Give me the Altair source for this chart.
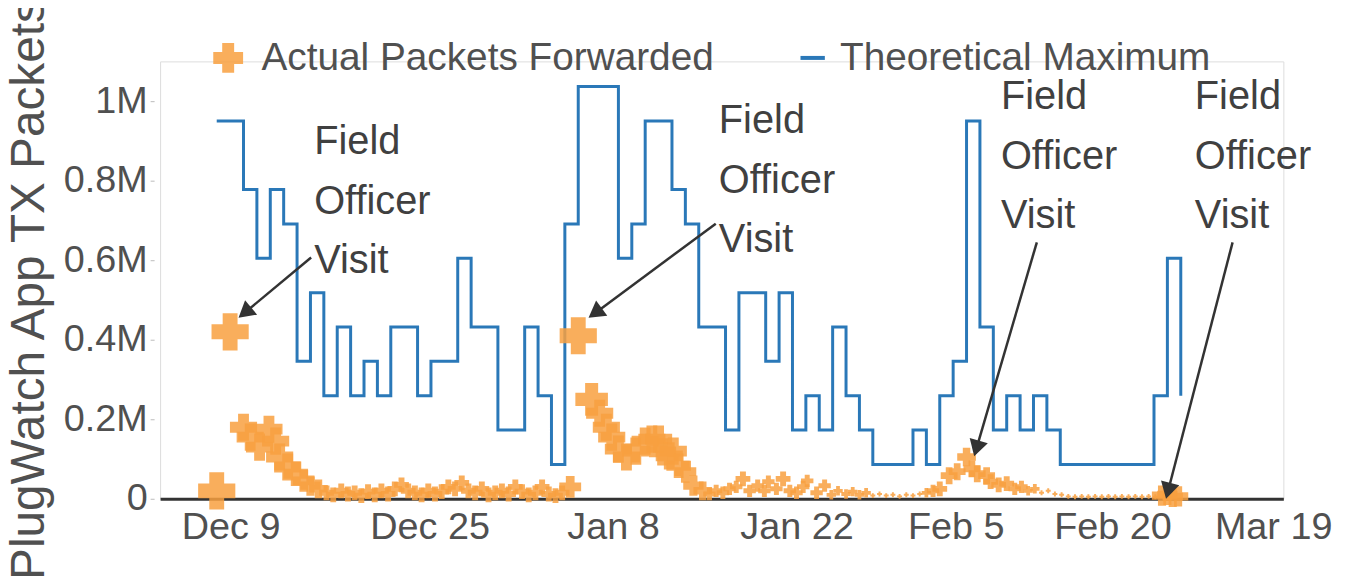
import math
import altair as alt
import pandas as pd

FONT = "Liberation Sans"

# ---- Theoretical maximum (thousand packets per day), day index 0 = Dec 8 ----
tm_day = list(range(73))
tm_k = [950, 950, 778, 605, 778, 691, 346, 518, 259, 432,
        259, 346, 259, 432, 432, 259, 346, 346, 605, 432,
        432, 173, 173, 432, 259, 86, 691, 1037, 1037, 1037,
        605, 691, 950, 950, 778, 691, 432, 432, 173, 518,
        518, 346, 518, 173, 259, 173, 432, 259, 173, 86,
        86, 86, 173, 86, 259, 346, 950, 432, 173, 259,
        173, 259, 173, 86, 86, 86, 86, 86, 86, 86,
        259, 605, 259]

# ---- Actual packets forwarded (thousand packets), with a marker weight ----
ap_day = [0.0, 1.0, 2.0, 2.5, 3.2, 3.9, 4.4, 4.7, 5.3, 5.9, 6.5, 7.0, 7.6,
          8.2, 8.7, 9.3, 9.8, 10.3, 10.8, 11.3, 11.8, 12.3, 12.8, 13.3, 13.8,
          14.3, 14.8, 15.3, 15.8, 16.3, 16.8, 17.3, 17.8, 18.3, 18.8, 19.3, 19.8,
          20.3, 20.8, 21.3, 21.8, 22.3, 22.8, 23.3, 23.8, 24.3, 24.8, 25.3, 25.8, 26.4,
          27.0, 28.0, 28.6, 29.1, 29.5, 30.0, 30.6, 31.3, 32.0, 32.5, 33.0, 33.3, 33.8,
          34.1, 34.5, 35.0, 35.6, 36.3,
          36.8, 37.3, 37.8, 38.3, 38.8, 39.3, 39.8, 40.4, 40.9, 41.2, 41.8, 42.3, 42.8,
          43.3, 43.8, 44.1, 44.8, 45.4, 45.9, 46.4, 47.0, 47.5, 48.0, 48.5, 49.0, 49.5,
          50.0, 50.5, 51.0, 51.5, 52.0, 52.5, 53.0, 53.5, 54.0,
          54.7, 55.3, 56.0, 56.4, 56.8, 57.5, 57.8, 58.4, 59.0, 59.6, 60.1, 60.6, 61.1,
          61.6, 62.1, 62.6, 63.1, 63.6, 64.1, 64.6, 65.1, 65.6, 66.1, 66.6, 67.1, 67.6,
          68.1, 68.6, 69.1, 69.6, 70.1, 70.6, 71.0, 71.4, 71.8]
ap_k = [20, 420, 180, 155, 130, 175, 145, 105, 80, 63, 45, 33, 25,
        15, 10, 20, 12, 15, 8, 18, 10, 20, 12, 25, 35,
        20, 15, 10, 20, 12, 18, 30, 25, 40, 20, 15, 25,
        10, 15, 20, 12, 30, 18, 10, 15, 30, 12, 8, 15, 30,
        410, 250, 215, 180, 155, 125, 105, 120, 145, 150, 150, 118, 108,
        120, 83, 68, 33, 20,
        12, 20, 15, 25, 30, 50, 20, 33, 20, 43, 25, 50, 20,
        15, 30, 45, 15, 33, 10, 20, 12, 18, 10, 15, 8, 12,
        8, 10, 6, 10, 8, 12, 15, 20, 25,
        58, 68, 105, 75, 63, 58, 43, 35, 38, 25, 30, 20, 25,
        15, 20, 12, 10, 6, 5, 6, 5, 6, 5, 6, 5, 6,
        5, 6, 5, 6, 5, 8, 10, 5, 6]
ap_w = [3, 3, 2, 2, 2, 2, 2, 2, 2, 1.8, 1.6, 1.5, 1.4,
        1.2, 1.2, 1.2, 1.2, 1.2, 1.2, 1.2, 1.2, 1.2, 1.2, 1.2, 1.2,
        1.2, 1.2, 1.2, 1.2, 1.2, 1.2, 1.2, 1.2, 1.2, 1.2, 1.2, 1.2,
        1.2, 1.2, 1.2, 1.2, 1.2, 1.2, 1.2, 1.2, 1.2, 1.2, 1.2, 1.2, 1.6,
        3, 2.5, 2, 2, 2, 2, 2, 2, 2, 2, 2, 2, 2,
        2, 1.8, 1.6, 1.5, 1.4,
        1.1, 1.1, 1.1, 1.1, 1.1, 1.2, 1.1, 1.1, 1.1, 1.1, 1.1, 1.2, 1.1,
        1.1, 1.1, 1.1, 1.1, 1.1, 1.0, 1.0, 1.0, 1.0, 1.0, 1.0, 0.9, 0.9,
        0.9, 0.9, 0.9, 0.9, 0.9, 0.9, 1.0, 1.1, 1.2,
        1.3, 1.3, 1.4, 1.3, 1.3, 1.3, 1.2, 1.2, 1.2, 1.1, 1.1, 1.0, 1.0,
        0.9, 0.9, 0.9, 0.9, 0.9, 0.9, 0.9, 0.9, 0.9, 0.9, 0.9, 0.9, 0.9,
        0.9, 0.9, 0.9, 0.9, 0.9, 1.5, 1.5, 1.5, 1.5]

# ---- x tick labels ----
tick_day = [1.04, 15.9, 29.6, 43.3, 55.2, 66.9, 78.9]
tick_lbl = ["Dec 9", "Dec 25", "Jan 8", "Jan 22", "Feb 5", "Feb 20", "Mar 19"]

# ---- annotations (data units: day index, thousand packets) ----
ann_text = ["Field\nOfficer\nVisit"] * 4
ann_day = [7.28, 37.5, 58.57, 73.05]
ann_k = [867, 920, 980, 980]
arr_tail_day = [7.05, 37.27, 61.25, 75.87]
arr_tail_k = [607, 692, 645, 645]
arr_tip_day = [1.63, 27.77, 56.57, 70.9]
arr_tip_k = [455, 455, 107, 0]

X_DOMAIN = [-4.23, 79.66]
Y_DOMAIN = [0, 1100000]
W, H = 1130, 440
px_day = W / (X_DOMAIN[1] - X_DOMAIN[0])
px_val = H / (Y_DOMAIN[1] - Y_DOMAIN[0])

ORANGE = "#f8a040"
BLUE = "#2a78b8"

tm = pd.DataFrame({"day": tm_day, "v": [k * 1000 for k in tm_k]})
ap = pd.DataFrame({"day": ap_day, "v": [k * 1000 for k in ap_k], "w": ap_w})

# arrow geometry
HEAD = 360
head_back = math.sqrt(HEAD) / 2 * 1.1547
rows = []
for td, tk, hd, hk in zip(arr_tail_day, arr_tail_k, arr_tip_day, arr_tip_k):
    dx = (hd - td) * px_day
    dy = -(hk - tk) * 1000 * px_val
    L = math.hypot(dx, dy)
    ux, uy = dx / L, dy / L
    cx = hd - ux * head_back / px_day
    cy = hk * 1000 + uy * head_back / px_val
    ang = math.degrees(math.atan2(dx, -dy)) % 360
    rows.append({"x1": td, "y1": tk * 1000, "x2": cx, "y2": cy, "ang": ang})
arrows = pd.DataFrame(rows)
ann = pd.DataFrame({"day": ann_day, "v": [k * 1000 for k in ann_k], "t": ann_text})

xs = alt.Scale(domain=X_DOMAIN, nice=False, zero=False)
ys = alt.Scale(domain=Y_DOMAIN, nice=False, zero=False)

expr = ""
for i in range(len(tick_day) - 1):
    mid = (tick_day[i] + tick_day[i + 1]) / 2
    expr += f"datum.value < {mid} ? '{tick_lbl[i]}' : "
expr += f"'{tick_lbl[-1]}'"

xaxis = alt.Axis(values=tick_day, labelExpr=expr, title=None, grid=False, ticks=False,
                 domainColor="#333333", domainWidth=3, labelFontSize=38, labelFont=FONT,
                 labelColor="#505050", labelPadding=10, labelFlush=False, labelOverlap=False)
yaxis = alt.Axis(values=[0, 200000, 400000, 600000, 800000, 1000000],
                 labelExpr="datum.value == 0 ? '0' : datum.value >= 1000000 ? '1M' : format(datum.value/1000000, '.1f') + 'M'",
                 title="PlugWatch App TX Packets", titleFontSize=48, titleFont=FONT,
                 titleFontWeight="normal", titleColor="#505050", titleAngle=270,
                 titleX=-125, titleY=229, titleAlign="center", titleBaseline="middle",
                 titleLimit=0,
                 grid=False, domain=False, tickSize=4, tickColor="#bbbbbb", offset=6,
                 labelPadding=3, labelFontSize=38, labelFont=FONT, labelColor="#505050")

line = alt.Chart(tm).mark_line(interpolate="step-after", strokeWidth=3).transform_calculate(
    series="'Theoretical Maximum'"
).encode(
    x=alt.X("day:Q", scale=xs, axis=xaxis),
    y=alt.Y("v:Q", scale=ys, axis=yaxis),
    color=alt.Color("series:N", scale=alt.Scale(domain=["Theoretical Maximum"], range=[BLUE]),
                    legend=alt.Legend(orient="none", legendX=637, legendY=-23, title=None,
                                      symbolType="stroke", symbolSize=600, symbolStrokeWidth=4,
                                      labelFontSize=39, labelFont=FONT, labelColor="#505050",
                                      labelOffset=8, labelLimit=0, padding=0)),
)

pts = alt.Chart(ap).mark_point(shape="cross", filled=True, opacity=0.85).transform_calculate(
    series="'Actual Packets Forwarded'"
).encode(
    x=alt.X("day:Q", scale=xs),
    y=alt.Y("v:Q", scale=ys),
    size=alt.Size("w:Q", scale=alt.Scale(domain=[1, 3], range=[90, 1400]), legend=None),
    color=alt.Color("series:N", scale=alt.Scale(domain=["Actual Packets Forwarded"], range=[ORANGE]),
                    legend=alt.Legend(orient="none", legendX=49, legendY=-23, title=None,
                                      symbolType="cross", symbolSize=900,
                                      labelFontSize=39, labelFont=FONT, labelColor="#505050",
                                      labelOffset=14, labelLimit=0, padding=0)),
)

rules = alt.Chart(arrows).mark_rule(color="#333333", strokeWidth=2.5).encode(
    x=alt.X("x1:Q", scale=xs), y=alt.Y("y1:Q", scale=ys), x2="x2:Q", y2="y2:Q")

heads = alt.Chart(arrows).mark_point(shape="triangle", filled=True, color="#333333",
                                     size=HEAD, opacity=1).encode(
    x=alt.X("x2:Q", scale=xs), y=alt.Y("y2:Q", scale=ys), angle=alt.Angle("ang:Q", scale=None))

texts = alt.Chart(ann).mark_text(align="left", baseline="alphabetic", fontSize=40, font=FONT,
                                  lineHeight=60, lineBreak="\n", color="#404040").encode(
    x=alt.X("day:Q", scale=xs), y=alt.Y("v:Q", scale=ys), text="t:N")

chart = alt.layer(line, pts, rules, heads, texts).resolve_scale(color="independent").resolve_legend(
    color="independent"
).properties(
    width=W, height=H,
    padding={"left": 153, "top": 52, "right": 57, "bottom": 82},
    autosize=alt.AutoSizeParams(type="none"),
).configure_view(stroke=None).configure(background="white")

chart.save("out.html", embed_options={"renderer": "svg", "actions": False})
